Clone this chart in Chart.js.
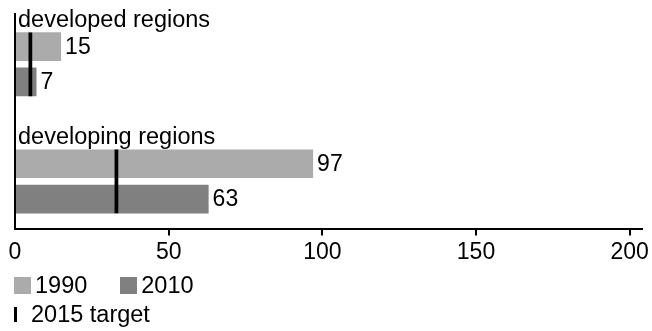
<!DOCTYPE html>
<html>
<head>
<meta charset="utf-8">
<script src="https://cdn.jsdelivr.net/npm/chart.js@4/dist/chart.umd.min.js"></script>
<style>
    body { margin: 0; background: #fff; }
    #wrap { position: relative; width: 652px; height: 331px; }
    #legend {
        position: absolute; left: 14px; top: 271px;
        font: 23.5px "Liberation Sans", Arial, sans-serif; color: #000;
    }
    #legend .row { display: flex; align-items: center; height: 29px; }
    #legend .item { display: flex; align-items: center; margin-right: 33px; }
    #legend .box { width: 17px; height: 17px; margin-right: 4px; }
    #legend .line { width: 3px; height: 15px; margin: 0 14px 0 0; }
</style>
</head>
<body>
<div id="wrap">
    <canvas id="chart" width="652" height="331"></canvas>
    <div id="legend"></div>
</div>
<script>
const categories = ['developed regions', 'developing regions'];
const values1990 = [15, 97];
const values2010 = [7, 63];
const target2015 = [5, 33];
const xTicks = [0, 50, 100, 150, 200];

const FONT = '"Liberation Sans", Arial, sans-serif';

document.addEventListener("DOMContentLoaded", () => {
    // category names above each group + value labels at bar ends
    const barLabels = {
        id: 'barLabels',
        afterDatasetsDraw(chart) {
            const { ctx, chartArea, scales: { y } } = chart;
            ctx.save();
            ctx.fillStyle = '#000';
            ctx.textAlign = 'left';
            ctx.textBaseline = 'alphabetic';
            ctx.font = '23.5px ' + FONT;
            categories.forEach((name, i) => {
                ctx.fillText(name, chartArea.left + 3, y.getPixelForValue(i) - 37.5);
            });
            ctx.font = '23px ' + FONT;
            ctx.textBaseline = 'middle';
            [0, 1].forEach(di => {
                chart.getDatasetMeta(di).data.forEach((bar, i) => {
                    ctx.fillText(chart.data.datasets[di].data[i].x, bar.x + 4, bar.y + 1);
                });
            });
            ctx.restore();
        }
    };

    const chart = new Chart(document.getElementById('chart'), {
        type: 'bar',
        data: {
            datasets: [
                {
                    label: '1990',
                    data: values1990.map((v, i) => ({ x: v, y: i })),
                    backgroundColor: '#ababab',
                    categoryPercentage: 0.603,
                    barPercentage: 0.814
                },
                {
                    label: '2010',
                    data: values2010.map((v, i) => ({ x: v, y: i })),
                    backgroundColor: '#808080',
                    categoryPercentage: 0.603,
                    barPercentage: 0.814
                },
                {
                    label: '2015 target',
                    data: target2015.map((v, i) => ({ x: [v - 0.5, v + 0.5], y: i })),
                    backgroundColor: '#000',
                    grouped: false,
                    barThickness: 63,
                    order: -1
                }
            ]
        },
        options: {
            indexAxis: 'y',
            responsive: false,
            animation: false,
            events: [],
            layout: { padding: { left: 15, right: 7, top: 14, bottom: 62 } },
            plugins: {
                legend: { display: false },
                tooltip: { enabled: false }
            },
            scales: {
                x: {
                    type: 'linear',
                    min: 0,
                    max: 204,
                    afterBuildTicks: (axis) => {
                        axis.ticks = xTicks.map(v => ({ value: v }));
                    },
                    ticks: { color: '#000', padding: 3, font: { family: FONT, size: 23 } },
                    grid: {
                        drawOnChartArea: false,
                        drawTicks: true,
                        tickLength: 6,
                        lineWidth: 2,
                        color: (c) => (c.tick && c.tick.value === 0) ? 'rgba(0,0,0,0)' : '#000'
                    },
                    border: { display: true, color: '#000', width: 2 }
                },
                y: {
                    type: 'linear',
                    reverse: true,
                    offset: false,
                    min: -0.43,
                    max: 1.41,
                    afterBuildTicks: (axis) => {
                        axis.ticks = categories.map((c, i) => ({ value: i }));
                    },
                    ticks: { display: false },
                    grid: { display: false, drawTicks: false, offset: false },
                    border: { display: true, color: '#000', width: 2 }
                }
            }
        },
        plugins: [barLabels]
    });

    // HTML legend: two swatches on the first row, target marker below
    const legend = document.getElementById('legend');
    let row = null;
    chart.data.datasets.forEach((ds, i) => {
        if (i === 0 || i === 2) {
            row = document.createElement('div');
            row.className = 'row';
            legend.appendChild(row);
        }
        const item = document.createElement('div');
        item.className = 'item';
        const mark = document.createElement('span');
        mark.className = ds.grouped === false ? 'line' : 'box';
        mark.style.background = ds.backgroundColor;
        const text = document.createElement('span');
        text.textContent = ds.label;
        item.appendChild(mark);
        item.appendChild(text);
        row.appendChild(item);
    });
});
</script>
</body>
</html>
